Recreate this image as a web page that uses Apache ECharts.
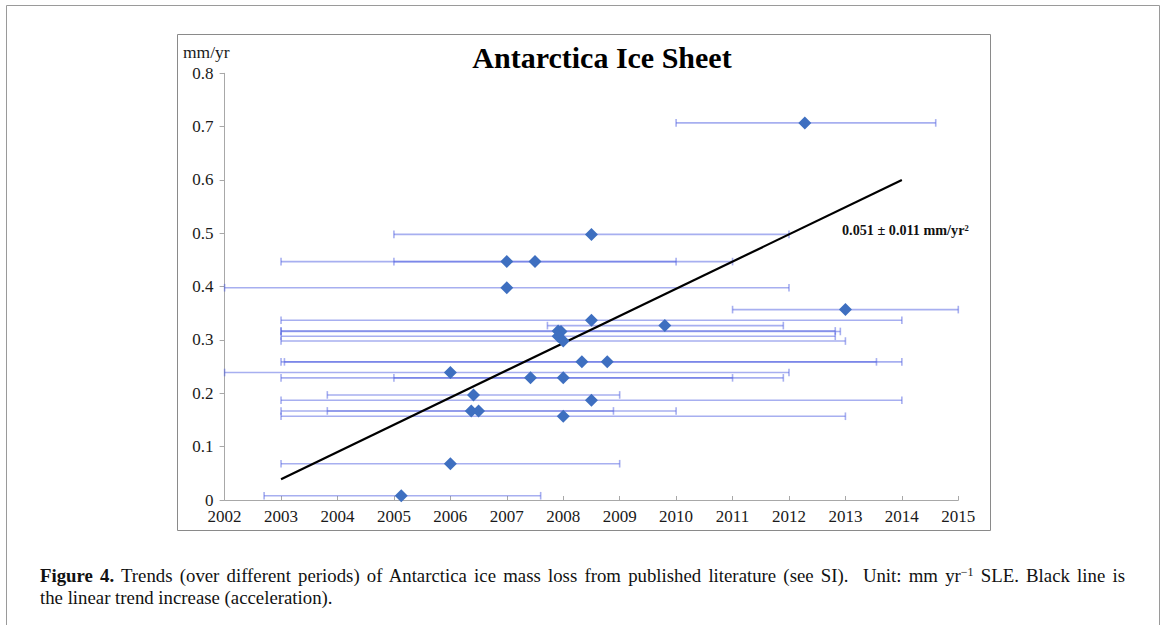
<!DOCTYPE html>
<html>
<head>
<meta charset="utf-8">
<script src="https://cdn.jsdelivr.net/npm/echarts@6/dist/echarts.min.js"></script>
<style>
html,body{margin:0;padding:0;background:#fff;}
#wrap{position:relative;width:1166px;height:625px;overflow:hidden;}
#c{position:absolute;left:0;top:0;width:1166px;height:625px;}
#cap{position:absolute;left:40px;top:565px;width:1085px;font-family:"Liberation Serif","DejaVu Serif",serif;font-size:18.8px;line-height:22px;color:#111;}
#cap .l1{text-align:justify;text-align-last:justify;}
#cap sup{font-size:12px;line-height:0;vertical-align:6px;}
</style>
</head>
<body>
<div id="wrap">
<div id="c"></div>
<div id="cap"><div class="l1"><b>Figure 4.</b> Trends (over different periods) of Antarctica ice mass loss from published literature (see SI).&nbsp; Unit: mm yr<sup>&minus;1</sup> SLE. Black line is</div><div>the linear trend increase (acceleration).</div></div>
</div>
<script>
// ---- data ----
var centerYear = [2012.28, 2008.5, 2007.0, 2007.5, 2007.0, 2013.0, 2008.5, 2009.8, 2007.91, 2007.96, 2007.91, 2008.0, 2008.33, 2008.78, 2006.0, 2007.42, 2008.0, 2006.41, 2008.5, 2006.37, 2006.5, 2008.0, 2006.0, 2005.13];
var trendValue = [0.707, 0.498, 0.447, 0.447, 0.398, 0.357, 0.337, 0.327, 0.317, 0.316, 0.307, 0.298, 0.259, 0.259, 0.239, 0.229, 0.229, 0.197, 0.187, 0.167, 0.167, 0.157, 0.068, 0.008];
var periodStart = [2010.0, 2005.0, 2003.0, 2005.0, 2002.0, 2011.0, 2003.0, 2007.72, 2003.0, 2003.0, 2003.0, 2003.0, 2003.06, 2003.0, 2002.0, 2003.0, 2005.0, 2003.82, 2003.0, 2003.82, 2003.0, 2003.0, 2003.0, 2002.7];
var periodEnd = [2014.6, 2012.0, 2011.0, 2010.0, 2012.0, 2015.0, 2014.0, 2011.9, 2012.82, 2012.91, 2012.82, 2013.0, 2013.55, 2014.0, 2012.0, 2011.9, 2011.0, 2009.0, 2014.0, 2008.89, 2010.0, 2013.0, 2009.0, 2007.6];
var fitYears = [2003, 2014];
var fitValues = [0.039, 0.600];
var xTicks = {min: 2002, max: 2015, step: 1};
var yTicks = {min: 0, max: 0.8, step: 0.1};

var serif = '"Liberation Serif", "DejaVu Serif", serif';
var barData = centerYear.map(function (c, i) { return [c, trendValue[i], periodStart[i], periodEnd[i]]; });
var pointData = centerYear.map(function (c, i) { return [c, trendValue[i]]; });
var fitData = fitYears.map(function (x, i) { return [x, fitValues[i]]; });

var chart = echarts.init(document.getElementById('c'), null, {renderer: 'svg'});
chart.setOption({
  backgroundColor: 'transparent',
  animation: false,
  grid: {left: 224.6, right: 207.7, top: 73.3, bottom: 125, containLabel: false},
  xAxis: {
    type: 'value', min: xTicks.min, max: xTicks.max, interval: xTicks.step,
    axisLine: {show: true, lineStyle: {color: '#a8a8a8', width: 1}},
    axisTick: {show: true, inside: true, length: 4, lineStyle: {color: '#a8a8a8'}},
    splitLine: {show: false},
    axisLabel: {color: '#1a1a1a', fontFamily: serif, fontSize: 17, margin: 8, formatter: function (v) { return String(v); }}
  },
  yAxis: {
    type: 'value', min: yTicks.min, max: yTicks.max, interval: yTicks.step,
    axisLine: {show: true, lineStyle: {color: '#a8a8a8', width: 1}},
    axisTick: {show: true, inside: false, length: 5, lineStyle: {color: '#a8a8a8'}},
    splitLine: {show: false},
    axisLabel: {color: '#1a1a1a', fontFamily: serif, fontSize: 17, margin: 11, formatter: function (v) { return v === 0 ? '0' : v.toFixed(1); }}
  },
  series: [
    {
      type: 'custom', name: 'period', z: 1,
      encode: {x: [0, 2, 3], y: 1},
      data: barData,
      renderItem: function (params, api) {
        var y = api.value(1);
        var p1 = api.coord([api.value(2), y]);
        var p2 = api.coord([api.value(3), y]);
        var h = 3.8;
        var st = {stroke: 'rgba(80,95,225,0.5)', lineWidth: 1.6};
        return {type: 'group', children: [
          {type: 'line', shape: {x1: p1[0], y1: p1[1], x2: p2[0], y2: p2[1]}, style: st},
          {type: 'line', shape: {x1: p1[0], y1: p1[1] - h, x2: p1[0], y2: p1[1] + h}, style: st},
          {type: 'line', shape: {x1: p2[0], y1: p2[1] - h, x2: p2[0], y2: p2[1] + h}, style: st}
        ]};
      }
    },
    {
      type: 'line', name: 'fit', z: 2, data: fitData, symbol: 'none',
      lineStyle: {color: '#000', width: 2.2}
    },
    {
      type: 'scatter', name: 'trend', z: 3, data: pointData, symbol: 'diamond', symbolSize: [13, 13],
      itemStyle: {color: '#3e6fc0', opacity: 1}
    }
  ],
  graphic: [
    {type: 'rect', shape: {x: 6.5, y: 5.5, width: 1153, height: 640}, style: {fill: 'none', stroke: '#9a9a9a', lineWidth: 1}, z: 0, silent: true},
    {type: 'rect', shape: {x: 177.5, y: 34.5, width: 813, height: 496}, style: {fill: 'none', stroke: '#8a8a8a', lineWidth: 1}, z: 0, silent: true},
    {type: 'text', x: 602, y: 57, style: {text: 'Antarctica Ice Sheet', fontFamily: serif, fontWeight: 'bold', fontSize: 30, fill: '#000', align: 'center', verticalAlign: 'middle'}},
    {type: 'text', x: 183, y: 52, style: {text: 'mm/yr', fontFamily: serif, fontSize: 17.5, fill: '#1a1a1a', align: 'left', verticalAlign: 'middle'}},
    {type: 'text', x: 842, y: 230, style: {text: '0.051 \u00b1 0.011 mm/yr\u00b2', fontFamily: serif, fontWeight: 'bold', fontSize: 14.2, fill: '#111', align: 'left', verticalAlign: 'middle'}}
  ]
});
</script>
</body>
</html>
